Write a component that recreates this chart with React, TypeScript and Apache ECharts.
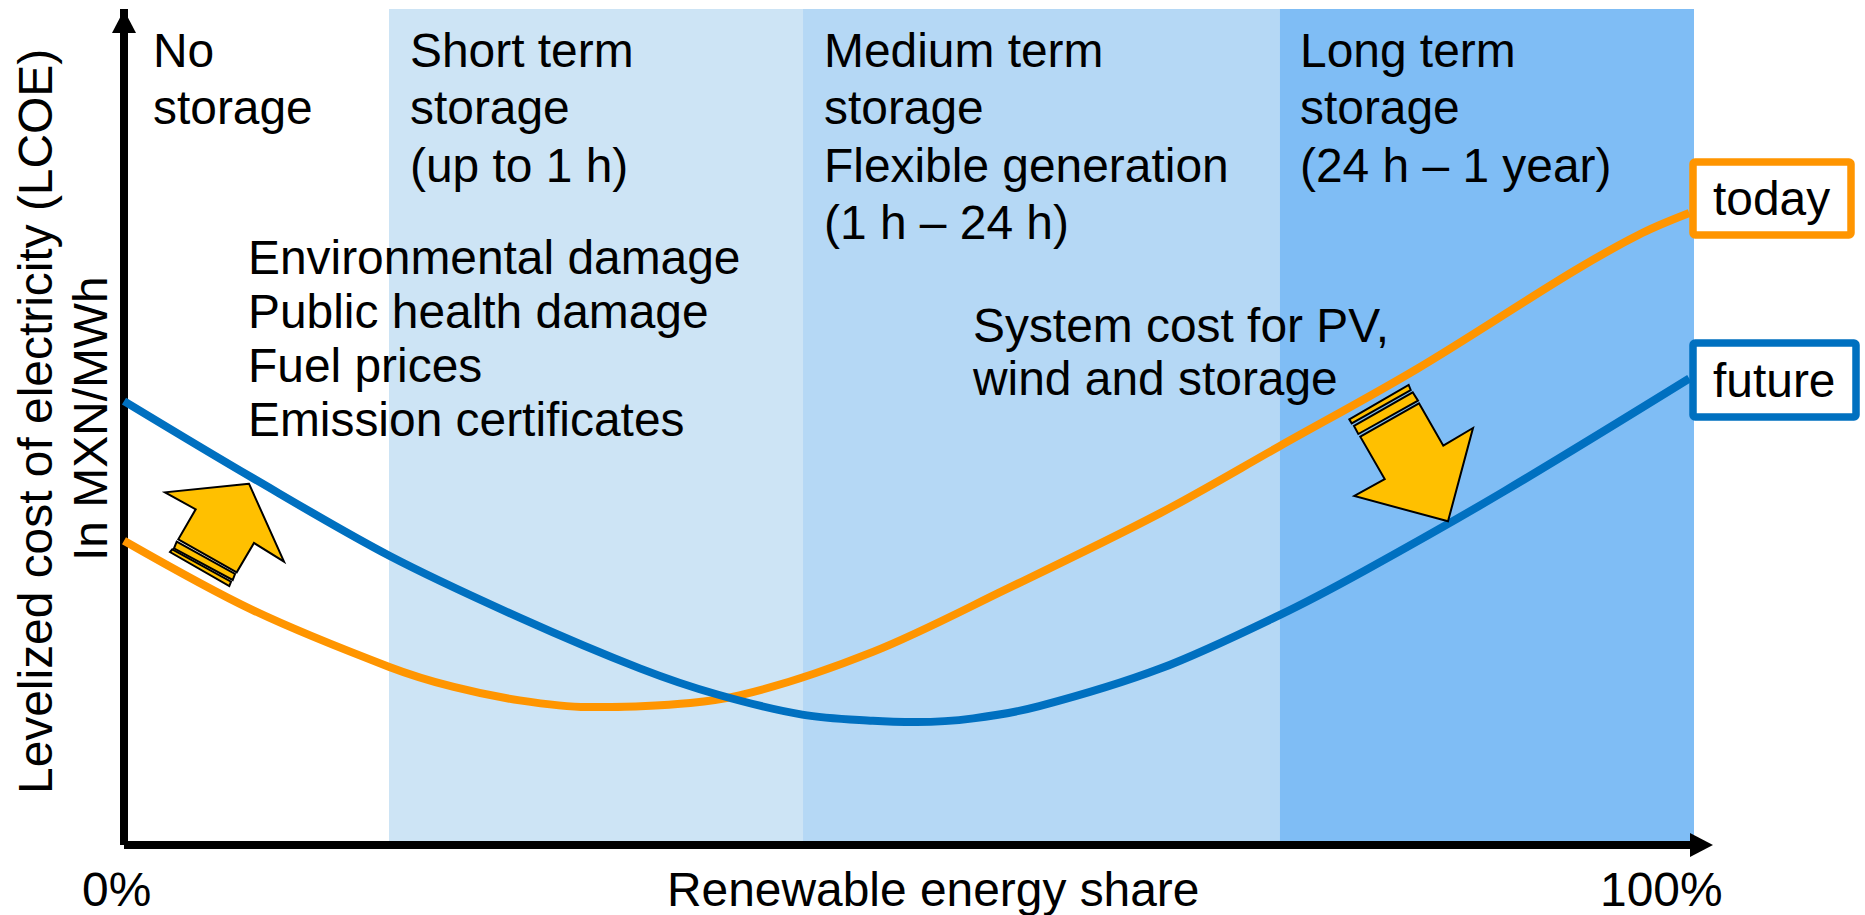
import React, { useEffect, useRef } from "react";
import * as echarts from "echarts";

const FONT = '"Liberation Sans", Arial, sans-serif';
const BLACK = "#000000";
const ORANGE = "#FF9500";
const BLUE = "#0070C0";
const ARROW = "#FFC000";

// x = renewable share in %, y = cost on a 0-100 index of the axis height
const blueX = [0, 8.2, 16.9, 25.2, 32.9, 37.8, 43.2, 47.7, 50.5, 54.1, 58.3, 66, 73.6, 79.1, 87.9, 99.7];
const blueY = [53.1, 43.9, 34.6, 27.2, 21.1, 18.0, 15.6, 14.85, 14.7, 15.15, 16.6, 21.1, 27.5, 32.9, 42.3, 55.8];
const orangeX = [0, 8.2, 16.9, 21, 25.2, 29.5, 32.9, 39.2, 47.7, 56.2, 66, 73.6, 82.4, 92.3, 96.7, 99.7];
const orangeY = [36.4, 28.1, 21.3, 18.9, 17.3, 16.5, 16.6, 17.9, 23.1, 30.6, 39.7, 47.7, 57.0, 68.6, 73.2, 75.6];

const bandStarts = [16.88, 43.25, 73.63];
const bandEnds = [43.25, 73.63, 100];
const bandColors = ["#CDE4F5", "#B5D8F5", "#7FBDF5"];

const noStorage = ["No", "storage"];
const shortTerm = ["Short term", "storage", "(up to 1 h)"];
const mediumTerm = ["Medium term", "storage", "Flexible generation", "(1 h – 24 h)"];
const longTerm = ["Long term", "storage", "(24 h – 1 year)"];
const drivers = ["Environmental damage", "Public health damage", "Fuel prices", "Emission certificates"];
const systemCost = ["System cost for PV,", "wind and storage"];
const xLabels = ["0%", "Renewable energy share", "100%"];
const yTitle = "Levelized cost of electricity (LCOE)";
const yUnit = "In MXN/MWh";

const pairs = (xs: number[], ys: number[]) => xs.map((x, i) => [x, ys[i]]);
const BASE = 0.3465;
const SIZE = 47.9;

function textLine(text: string, x: number, baseline: number, size = SIZE, align = "left") {
  return {
    type: "text",
    z: 20,
    x,
    y: baseline - BASE * size,
    style: { text, fill: BLACK, font: `${size}px ${FONT}`, align, verticalAlign: "middle" },
  };
}
function block(lines: string[], x: number, first: number, lead: number, size = SIZE) {
  return lines.map((l, i) => textLine(l, x, first + i * lead, size));
}
function vertical(text: string, baselineX: number, yStart: number, size = SIZE) {
  return {
    type: "text",
    z: 20,
    x: baselineX - BASE * size,
    y: yStart,
    rotation: Math.PI / 2,
    style: { text, fill: BLACK, font: `${size}px ${FONT}`, align: "left", verticalAlign: "middle" },
  };
}
function poly(points: number[][]) {
  return {
    type: "polygon",
    z: 15,
    shape: { points },
    style: { fill: ARROW, stroke: BLACK, lineWidth: 2 },
  };
}
function box(x: number, y: number, width: number, height: number, stroke: string) {
  return {
    type: "rect",
    z: 16,
    shape: { x, y, width, height, r: 2 },
    style: { fill: "#FFFFFF", stroke, lineWidth: 7.5 },
  };
}

export default function App() {
  const ref = useRef<HTMLDivElement>(null);
  useEffect(() => {
    document.body.style.margin = "0";
    document.body.style.overflow = "hidden";
    const chart = echarts.init(ref.current!, undefined, { renderer: "svg" });
    const axisLineStyle = { color: BLACK, width: 8, cap: "butt" };
    chart.setOption({
      animation: false,
      backgroundColor: "#FFFFFF",
      grid: { left: 124, right: 171, top: 9, bottom: 70, containLabel: false },
      xAxis: {
        type: "value",
        z: 2,
        min: 0,
        max: 100,
        interval: 100,
        axisLine: {
          show: true,
          onZero: false,
          lineStyle: axisLineStyle,
          symbol: ["none", "triangle"],
          symbolSize: [24, 23],
          symbolOffset: [0, 7.5],
        },
        axisTick: { show: false },
        axisLabel: { show: false },
        splitLine: { show: false },
      },
      yAxis: {
        type: "value",
        z: 2,
        min: 0,
        max: 100,
        interval: 100,
        axisLine: {
          show: true,
          onZero: false,
          lineStyle: axisLineStyle,
          symbol: ["none", "triangle"],
          symbolSize: [24, 23],
          symbolOffset: [0, -12.5],
        },
        axisTick: { show: false },
        axisLabel: { show: false },
        splitLine: { show: false },
      },
      series: [
        {
          name: "bands",
          type: "line",
          z: 1,
          silent: true,
          data: [],
          markArea: {
            silent: true,
            z: 1,
            itemStyle: { opacity: 1 },
            data: bandStarts.map((s, i) => [
              { xAxis: s, yAxis: 0, itemStyle: { color: bandColors[i], opacity: 1 } },
              { xAxis: bandEnds[i], yAxis: 100 },
            ]),
          },
        },
        {
          name: "today",
          type: "line",
          z: 3,
          clip: false,
          smooth: 0.33,
          symbol: "none",
          lineStyle: { color: ORANGE, width: 8, cap: "butt" },
          data: pairs(orangeX, orangeY),
        },
        {
          name: "future",
          type: "line",
          z: 4,
          clip: false,
          smooth: 0.33,
          symbol: "none",
          lineStyle: { color: BLUE, width: 8, cap: "butt" },
          data: pairs(blueX, blueY),
        },
      ],
      graphic: [
        ...block(noStorage, 153, 67, 57.5),
        ...block(shortTerm, 410, 67, 57.5),
        ...block(mediumTerm, 824, 67, 57.5),
        ...block(longTerm, 1300, 67, 57.5),
        ...block(drivers, 248, 274, 54),
        ...block(systemCost, 973, 342, 53),
        textLine(xLabels[0], 82, 906),
        textLine(xLabels[1], 667, 906),
        textLine(xLabels[2], 1600, 906),
        vertical(yTitle, 52, 794),
        vertical(yUnit, 107, 561),
        poly([[249, 483.7], [165, 492.3], [195.7, 509.3], [178.3, 539.3], [236.7, 572.3], [254, 543], [284, 561.7]]),
        poly([[176.7, 541.7], [235, 574], [232.7, 580], [174, 548.3]]),
        poly([[172.3, 549.3], [231, 581.7], [229.3, 586], [170, 552]]),
        poly([[1419, 403.3], [1443.3, 445.7], [1473, 428], [1448, 521.3], [1354.3, 496], [1384.7, 479], [1360.3, 436.7]]),
        poly([[1412.7, 392.3], [1418, 400.7], [1358.3, 434], [1354, 426]]),
        poly([[1408.7, 385], [1410.7, 390], [1351.7, 423.3], [1349.3, 419.3]]),
        box(1693, 162, 158, 73, ORANGE),
        box(1693, 343, 163, 74, BLUE),
        textLine("today", 1713, 215),
        textLine("future", 1713, 397),
      ],
    });
    return () => chart.dispose();
  }, []);
  return <div ref={ref} style={{ width: 1865, height: 915 }} />;
}
